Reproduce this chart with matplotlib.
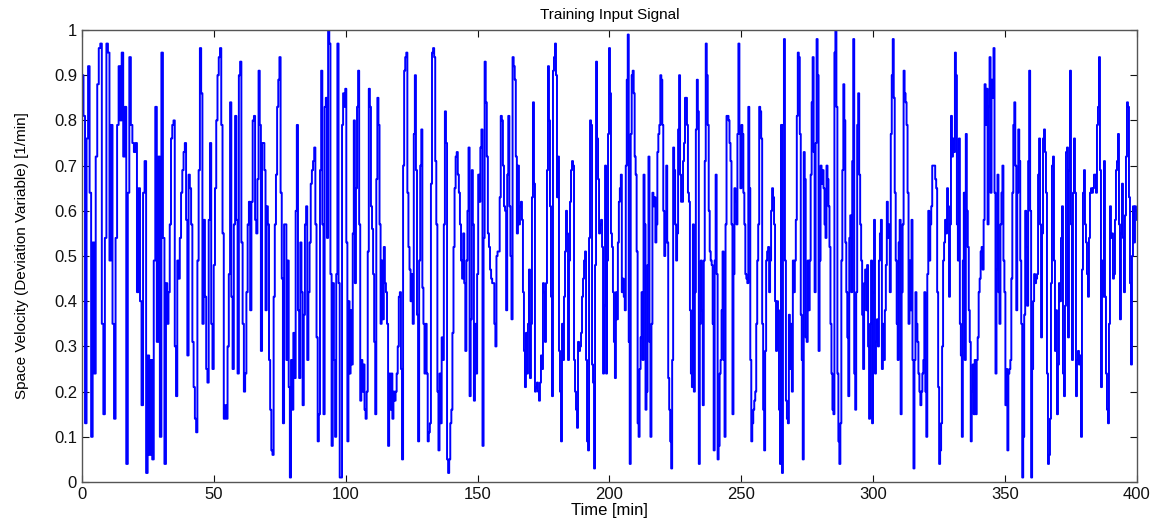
import numpy as np
import matplotlib
matplotlib.use("Agg")
import matplotlib.pyplot as plt

# segment boundaries on the time axis [min]
seg_edges = [0.0, 31.85, 65.2, 98.6, 131.9, 165.3, 198.7, 232.0, 265.4, 298.8, 332.1, 365.5, 400.0]

# space velocity, one list per segment
seg1 = [0.90, 0.81, 0.13, 0.76, 0.92, 0.64, 0.10, 0.53, 0.24, 0.72, 0.88, 0.96, 0.97, 0.35, 0.15, 0.54,
        0.97, 0.95, 0.49, 0.79, 0.35, 0.14, 0.54, 0.79, 0.92, 0.80, 0.95, 0.72, 0.83, 0.04, 0.64, 0.94,
        0.79, 0.75, 0.73, 0.75, 0.42, 0.65, 0.40, 0.17, 0.64, 0.71, 0.02, 0.28, 0.06, 0.27, 0.05, 0.49,
        0.83, 0.31, 0.72, 0.10, 0.95, 0.54, 0.04]
seg2 = [0.44, 0.35, 0.42, 0.57, 0.76, 0.79, 0.80, 0.30, 0.19, 0.49, 0.45, 0.54, 0.64, 0.69, 0.73, 0.75,
        0.58, 0.28, 0.68, 0.65, 0.57, 0.31, 0.21, 0.14, 0.11, 0.49, 0.69, 0.96, 0.86, 0.35, 0.58, 0.41,
        0.25, 0.22, 0.58, 0.75, 0.35, 0.25, 0.48, 0.65, 0.80, 0.90, 0.94, 0.96, 0.79, 0.55, 0.14, 0.17,
        0.14, 0.30, 0.46, 0.84, 0.41, 0.25, 0.57, 0.81, 0.58, 0.24, 0.90, 0.93, 0.53, 0.35, 0.20, 0.24,
        0.42, 0.57, 0.62, 0.38, 0.62, 0.80]
seg3 = [0.81, 0.58, 0.55, 0.67, 0.91, 0.79, 0.29, 0.75, 0.75, 0.69, 0.38, 0.61, 0.57, 0.27, 0.16, 0.07,
        0.06, 0.41, 0.57, 0.68, 0.83, 0.89, 0.94, 0.64, 0.45, 0.13, 0.57, 0.57, 0.27, 0.49, 0.21, 0.01,
        0.27, 0.16, 0.33, 0.23, 0.60, 0.79, 0.38, 0.23, 0.53, 0.42, 0.17, 0.37, 0.57, 0.61, 0.27, 0.42,
        0.53, 0.66, 0.69, 0.71, 0.74, 0.57, 0.32, 0.09, 0.15, 0.69, 0.91, 0.57, 0.15, 0.83, 0.85, 0.54,
        1.00, 0.97, 0.46, 0.08, 0.44, 0.27, 0.10, 0.46, 0.97, 0.44, 0.01, 0.01]
seg4 = [0.79, 0.86, 0.83, 0.87, 0.53, 0.09, 0.40, 0.24, 0.38, 0.26, 0.55, 0.80, 0.44, 0.65, 0.83, 0.91,
        0.57, 0.18, 0.27, 0.20, 0.26, 0.16, 0.14, 0.20, 0.51, 0.87, 0.83, 0.61, 0.56, 0.46, 0.31, 0.15,
        0.67, 0.85, 0.79, 0.57, 0.35, 0.49, 0.36, 0.52, 0.44, 0.42, 0.35, 0.08, 0.24, 0.16, 0.24, 0.14,
        0.20, 0.18, 0.20, 0.24, 0.30, 0.41, 0.42, 0.25, 0.05, 0.70, 0.91, 0.94, 0.95, 0.64, 0.52, 0.47,
        0.40, 0.46, 0.35, 0.77, 0.90, 0.69, 0.37, 0.09, 0.49, 0.70, 0.78, 0.43, 0.35, 0.24, 0.35, 0.24,
        0.09, 0.11]
seg5 = [0.13, 0.66, 0.95, 0.96, 0.94, 0.71, 0.57, 0.20, 0.07, 0.24, 0.13, 0.32, 0.27, 0.57, 0.82, 0.75,
        0.05, 0.02, 0.05, 0.13, 0.16, 0.33, 0.52, 0.65, 0.72, 0.73, 0.68, 0.64, 0.57, 0.49, 0.45, 0.55,
        0.44, 0.29, 0.49, 0.60, 0.74, 0.19, 0.36, 0.69, 0.57, 0.18, 0.35, 0.24, 0.46, 0.68, 0.62, 0.74,
        0.78, 0.08, 0.54, 0.93, 0.84, 0.72, 0.55, 0.52, 0.47, 0.45, 0.44, 0.44, 0.35, 0.30, 0.50, 0.51,
        0.51, 0.63, 0.81, 0.80, 0.70, 0.61, 0.60, 0.38, 0.68, 0.81, 0.61, 0.50, 0.36, 0.94, 0.92, 0.89,
        0.72, 0.55]
seg6 = [0.70, 0.57, 0.61, 0.62, 0.58, 0.42, 0.29, 0.21, 0.33, 0.24, 0.35, 0.47, 0.23, 0.35, 0.63, 0.84,
        0.66, 0.20, 0.21, 0.22, 0.20, 0.18, 0.22, 0.28, 0.25, 0.44, 0.42, 0.31, 0.44, 0.69, 0.92, 0.80,
        0.61, 0.41, 0.19, 0.91, 0.94, 0.97, 0.90, 0.63, 0.72, 0.29, 0.20, 0.09, 0.35, 0.27, 0.41, 0.51,
        0.60, 0.55, 0.27, 0.49, 0.62, 0.69, 0.71, 0.70, 0.27, 0.20, 0.16, 0.12, 0.31, 0.29, 0.30, 0.33,
        0.41, 0.45, 0.49, 0.51, 0.27, 0.09, 0.07, 0.54, 0.80, 0.79, 0.26, 0.22, 0.03, 0.48, 0.93, 0.76,
        0.67, 0.55, 0.57, 0.58, 0.52, 0.24, 0.39, 0.70]
seg7 = [0.24, 0.49, 0.77, 0.96, 0.86, 0.55, 0.52, 0.42, 0.31, 0.23, 0.42, 0.36, 0.53, 0.62, 0.65, 0.68,
        0.42, 0.45, 0.41, 0.38, 0.70, 0.89, 0.99, 0.31, 0.04, 0.77, 0.90, 0.91, 0.86, 0.72, 0.68, 0.51,
        0.13, 0.10, 0.25, 0.32, 0.42, 0.27, 0.68, 0.57, 0.16, 0.20, 0.48, 0.72, 0.31, 0.10, 0.35, 0.64,
        0.61, 0.63, 0.53, 0.57, 0.73, 0.77, 0.79, 0.90, 0.89, 0.79, 0.60, 0.50, 0.53, 0.70, 0.53, 0.23,
        0.16, 0.09, 0.03, 0.27, 0.74, 0.69, 0.57, 0.49, 0.55, 0.78, 0.90, 0.68, 0.62, 0.62, 0.71, 0.75,
        0.85, 0.85, 0.79, 0.64, 0.62, 0.38, 0.24, 0.21, 0.57]
seg8 = [0.20, 0.42, 0.78, 0.89, 0.82, 0.04, 0.35, 0.49, 0.38, 0.17, 0.49, 0.71, 0.97, 0.90, 0.79, 0.60,
        0.51, 0.49, 0.48, 0.35, 0.07, 0.49, 0.68, 0.46, 0.05, 0.08, 0.24, 0.27, 0.38, 0.51, 0.27, 0.10,
        0.57, 0.81, 0.81, 0.80, 0.75, 0.71, 0.57, 0.15, 0.46, 0.65, 0.62, 0.57, 0.77, 0.97, 0.77, 0.65,
        0.79, 0.77, 0.64, 0.57, 0.46, 0.45, 0.44, 0.83, 0.65, 0.27, 0.09, 0.13, 0.16, 0.18, 0.20, 0.35,
        0.49, 0.57, 0.83, 0.82, 0.76, 0.35, 0.16, 0.07, 0.29, 0.49, 0.51, 0.52, 0.42, 0.49, 0.60, 0.65,
        0.63, 0.57, 0.40, 0.29, 0.40, 0.38, 0.16, 0.04, 0.79]
seg9 = [0.02, 0.79, 0.98, 0.49, 0.18, 0.14, 0.13, 0.37, 0.25, 0.35, 0.20, 0.49, 0.42, 0.49, 0.58, 0.81,
        0.95, 0.94, 0.77, 0.37, 0.27, 0.05, 0.73, 0.67, 0.32, 0.31, 0.49, 0.38, 0.49, 0.68, 0.84, 0.94,
        0.73, 0.42, 0.75, 0.98, 0.90, 0.29, 0.49, 0.70, 0.66, 0.69, 0.65, 0.57, 0.54, 0.70, 0.67, 0.61,
        0.52, 0.35, 0.24, 0.16, 0.15, 0.95, 1.00, 0.83, 0.24, 0.09, 0.04, 0.13, 0.49, 0.69, 0.88, 0.80,
        0.53, 0.42, 0.32, 0.19, 0.54, 0.59, 0.42, 0.71, 0.98, 0.24, 0.16, 0.42, 0.79, 0.86, 0.68, 0.57,
        0.49, 0.37, 0.25, 0.44, 0.47, 0.38, 0.48, 0.30, 0.14]
seg10 = [0.35, 0.49, 0.13, 0.42, 0.58, 0.24, 0.31, 0.36, 0.30, 0.49, 0.55, 0.58, 0.25, 0.35, 0.27, 0.38,
         0.48, 0.62, 0.54, 0.57, 0.42, 0.77, 0.90, 0.98, 0.85, 0.64, 0.49, 0.35, 0.27, 0.53, 0.58, 0.15,
         0.42, 0.57, 0.91, 0.86, 0.84, 0.79, 0.64, 0.35, 0.49, 0.38, 0.58, 0.27, 0.03, 0.27, 0.42, 0.35,
         0.31, 0.24, 0.20, 0.17, 0.20, 0.24, 0.27, 0.42, 0.20, 0.10, 0.46, 0.60, 0.49, 0.57, 0.61, 0.70,
         0.70, 0.70, 0.67, 0.65, 0.42, 0.21, 0.04, 0.07, 0.13, 0.30, 0.49, 0.53, 0.58, 0.55, 0.65, 0.61,
         0.41, 0.57, 0.81, 0.72, 0.76, 0.73, 0.95, 0.90, 0.57]
seg11 = [0.49, 0.76, 0.35, 0.28, 0.10, 0.49, 0.64, 0.27, 0.77, 0.60, 0.52, 0.38, 0.31, 0.09, 0.20, 0.26,
         0.15, 0.27, 0.15, 0.27, 0.32, 0.42, 0.45, 0.51, 0.52, 0.47, 0.58, 0.88, 0.79, 0.87, 0.57, 0.83,
         0.94, 0.64, 0.89, 0.85, 0.96, 0.64, 0.24, 0.47, 0.68, 0.42, 0.35, 0.57, 0.64, 0.70, 0.49, 0.42,
         0.17, 0.25, 0.07, 0.24, 0.25, 0.27, 0.45, 0.64, 0.79, 0.84, 0.70, 0.38, 0.64, 0.78, 0.71, 0.49,
         0.35, 0.01, 0.10, 0.37, 0.60, 0.52, 0.39, 0.71, 0.91, 0.60, 0.01, 0.25, 0.40, 0.46, 0.44, 0.45,
         0.46, 0.68, 0.76, 0.57, 0.32, 0.55, 0.76, 0.78, 0.73]
seg12 = [0.64, 0.24, 0.04, 0.06, 0.14, 0.44, 0.70, 0.72, 0.49, 0.29, 0.38, 0.15, 0.26, 0.44, 0.40, 0.54,
         0.61, 0.24, 0.19, 0.39, 0.73, 0.74, 0.32, 0.69, 0.91, 0.57, 0.27, 0.64, 0.76, 0.64, 0.19, 0.27,
         0.29, 0.26, 0.28, 0.10, 0.47, 0.64, 0.69, 0.57, 0.53, 0.46, 0.41, 0.54, 0.64, 0.65, 0.64, 0.65,
         0.68, 0.68, 0.64, 0.79, 0.83, 0.94, 0.69, 0.21, 0.49, 0.41, 0.71, 0.41, 0.24, 0.16, 0.13, 0.35,
         0.61, 0.54, 0.55, 0.45, 0.46, 0.58, 0.69, 0.71, 0.77, 0.57, 0.36, 0.55, 0.66, 0.54, 0.42, 0.59,
         0.72, 0.84, 0.83, 0.63, 0.44, 0.26, 0.50, 0.61, 0.53, 0.61, 0.60, 0.58]

x_ticks = [0, 50, 100, 150, 200, 250, 300, 350, 400]
y_ticks = [0, 0.1, 0.2, 0.3, 0.4, 0.5, 0.6, 0.7, 0.8, 0.9, 1]
y_tick_labels = ["0", "0.1", "0.2", "0.3", "0.4", "0.5", "0.6", "0.7", "0.8", "0.9", "1"]


def main():
    segments = [seg1, seg2, seg3, seg4, seg5, seg6, seg7, seg8, seg9, seg10, seg11, seg12]
    times = []
    values = []
    for i, seg in enumerate(segments):
        last = i == len(segments) - 1
        times.append(np.linspace(seg_edges[i], seg_edges[i + 1], len(seg), endpoint=last))
        values.append(np.array(seg))
    t = np.concatenate(times)
    v = np.concatenate(values)

    plt.rcParams["font.family"] = ["Liberation Sans", "DejaVu Sans"]

    fig = plt.figure(figsize=(11.61, 5.22), dpi=100)
    ax = fig.add_axes([0.0706, 0.0766, 0.9087, 0.8659])

    # step-like signal, like the original input sequence
    ax.plot(t, v, color="#0000ff", linewidth=1.4, drawstyle="steps-post")

    ax.set_xlim(0, 400)
    ax.set_ylim(0, 1)
    ax.set_xticks(x_ticks)
    ax.set_yticks(y_ticks)
    ax.set_yticklabels(y_tick_labels)
    ax.tick_params(direction="in", top=True, right=True, length=5, width=0.8,
                   labelsize=12, colors="#111111")
    for spine in ax.spines.values():
        spine.set_color("#555555")
        spine.set_linewidth(1.0)

    ax.set_title("Training Input Signal", fontsize=11, pad=8)
    ax.set_xlabel("Time [min]", fontsize=12, labelpad=1)
    ax.set_ylabel("Space Velocity (Deviation Variable) [1/min]", fontsize=11, labelpad=18)

    fig.savefig("out.png", dpi=100)


if __name__ == "__main__":
    main()
